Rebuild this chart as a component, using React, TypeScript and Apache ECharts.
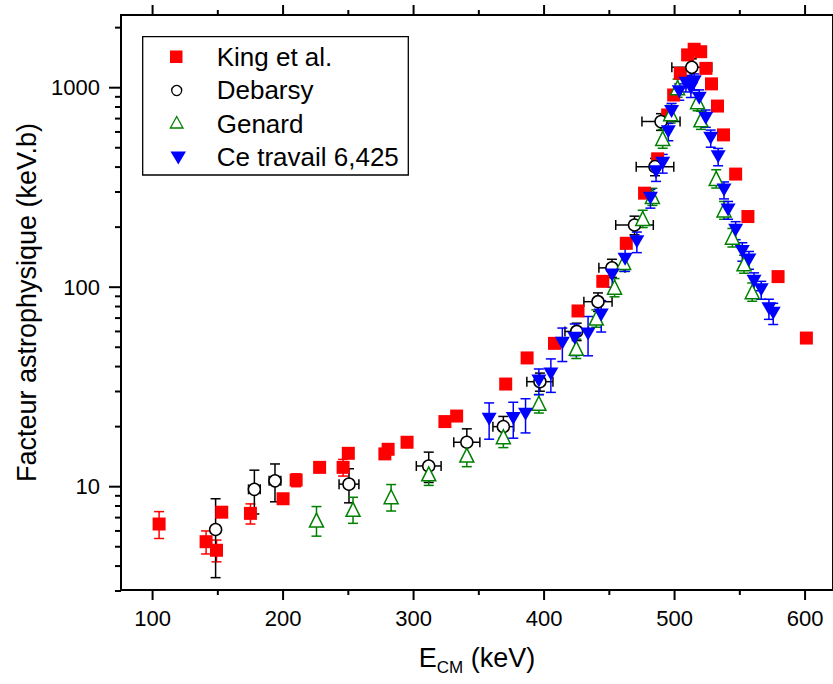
import React, { useEffect, useRef } from "react";
import * as echarts from "echarts";

// ---- Data ----
const kingE = [105, 141, 149, 153, 175, 200, 210, 228, 246, 250, 278, 280.5, 295, 324, 333, 370.6, 387, 408, 426, 445, 463, 477, 487, 494.7, 499.3, 504.4, 510, 515, 520, 524, 528.3, 532.9, 537.5, 546.8, 556.2, 579.3, 601];
const kingS = [6.5, 5.3, 4.8, 7.45, 7.35, 8.7, 10.8, 12.5, 12.5, 14.7, 14.6, 15.4, 16.7, 21.2, 22.6, 32.7, 44.2, 52.3, 76, 107, 166, 296, 440, 730, 919, 1180, 1460, 1558, 1515, 1250, 1045, 809, 580, 369, 226, 113, 55.6];
const kingErr = [1.0, 0.7, 0.6, 0.3, 0.85, 0.5, 0.8, 0.3, 1.2, 0.4, 0.4, 0.4, 0.4, 0.4, 0.4, 0.6, 0.8, 1, 1.5, 2, 3, 5, 8, 12, 15, 20, 25, 25, 25, 20, 18, 14, 10, 6, 4, 2, 1];

const debE = [148.3, 178, 193.8, 250.5, 311.6, 340.8, 368.8, 396.8, 425, 441.3, 452, 469.3, 485, 489.6, 513.2];
const debS = [6.1, 9.7, 10.7, 10.3, 12.7, 16.7, 20.0, 33.6, 60, 84.6, 125, 205, 402, 676, 1265];
const debSErr = [2.6, 2.4, 2.3, 2.0, 2.2, 2.8, 2.5, 3.5, 6, 9, 13, 22, 40, 65, 130];
const debEErr = [0, 4.5, 4.5, 7.6, 9.5, 10, 8, 10, 9, 10.8, 10, 14.4, 14.4, 14.6, 15.3];

const genE = [225.6, 253.6, 282.8, 311.6, 340.8, 368.8, 396, 424.7, 440, 454, 461, 475.6, 483, 490.9, 497, 502.3, 517.6, 520.2, 531.9, 537.9, 544.3, 553.2, 559.5];
const genS = [6.8, 7.7, 8.9, 11.6, 14.4, 17.8, 26.2, 49.4, 70, 100, 133, 221, 285, 557, 740, 1000, 851, 690, 351, 244, 178, 131, 95];
const genErr = [1.15, 1.15, 1.35, 1.45, 1.8, 2.1, 2.8, 5.5, 7, 10.5, 13, 22, 28, 60, 75, 105, 85, 72, 37, 25, 19, 13.5, 10];

const ceE = [357.9, 376.4, 385.8, 396, 405.2, 414, 423.5, 433.7, 443.8, 452.2, 462.1, 471.1, 481.5, 485.8, 490.9, 495.2, 497.7, 503.6, 508.7, 512.5, 515.1, 518.9, 523.9, 527.7, 533.4, 537.9, 541, 546.8, 551.9, 557, 560.9, 566.4, 572.3, 575.6];
const ceS = [21.8, 22, 23.1, 33.9, 36.7, 52.4, 55.4, 58.3, 72.6, 115, 138, 169, 279, 379, 418, 602, 759, 955, 1052, 993, 1072, 885, 703, 558, 451, 307, 244, 193, 151, 137, 107, 97, 78, 74];
const ceErr = [4.5, 4.5, 4.5, 5, 7, 10, 10, 13, 13, 15, 18, 20, 30, 40, 45, 60, 75, 90, 100, 100, 100, 90, 70, 55, 45, 30, 25, 20, 16, 14, 11, 10, 9, 9];

const seriesNames = ["King et al.", "Debarsy", "Genard", "Ce travail 6,425"];

const xMajorTicks = [100, 200, 300, 400, 500, 600];
const xMinorTicks = [150, 250, 350, 450, 550];
const yMajorTicks = [10, 100, 1000];
const yMinorTicks = [3, 4, 5, 6, 7, 8, 9, 20, 30, 40, 50, 60, 70, 80, 90, 200, 300, 400, 500, 600, 700, 800, 900, 2000];

const X_MIN = 75.8;
const X_MAX = 621.4;
const Y_MIN = 3.035;
const Y_MAX = 2314;

const FONT = "'Liberation Sans', Arial, sans-serif";
const RED = "#ff0000";
const GREEN = "#008000";
const BLUE = "#0000ff";
const BLACK = "#000000";

function errRender(color: string) {
  return (params: any, api: any) => {
    const x = api.value(0);
    const y = api.value(1);
    const lo = api.value(2);
    const hi = api.value(3);
    const xe = api.value(4);
    const pLo = api.coord([x, lo]);
    const pHi = api.coord([x, hi]);
    const c = 5;
    const style = { stroke: color, lineWidth: 1.5, fill: "none" };
    const children: any[] = [
      { type: "line", shape: { x1: pLo[0], y1: pLo[1], x2: pHi[0], y2: pHi[1] }, style },
      { type: "line", shape: { x1: pLo[0] - c, y1: pLo[1], x2: pLo[0] + c, y2: pLo[1] }, style },
      { type: "line", shape: { x1: pHi[0] - c, y1: pHi[1], x2: pHi[0] + c, y2: pHi[1] }, style },
    ];
    if (xe > 0) {
      const pL = api.coord([x - xe, y]);
      const pR = api.coord([x + xe, y]);
      children.push(
        { type: "line", shape: { x1: pL[0], y1: pL[1], x2: pR[0], y2: pR[1] }, style },
        { type: "line", shape: { x1: pL[0], y1: pL[1] - c, x2: pL[0], y2: pL[1] + c }, style },
        { type: "line", shape: { x1: pR[0], y1: pR[1] - c, x2: pR[0], y2: pR[1] + c }, style }
      );
    }
    return { type: "group", children };
  };
}

function App() {
  const ref = useRef<HTMLDivElement>(null);

  useEffect(() => {
    if (!ref.current) return;
    const chart = echarts.init(ref.current, null, { renderer: "svg" });

    const kingErrData = kingE.map((e, i) => [e, kingS[i], kingS[i] - kingErr[i], kingS[i] + kingErr[i], 0]);
    const debErrData = debE.map((e, i) => [e, debS[i], debS[i] - debSErr[i], debS[i] + debSErr[i], debEErr[i]]);
    const genErrData = genE.map((e, i) => [e, genS[i], genS[i] - genErr[i], genS[i] + genErr[i], 0]);
    const ceErrData = ceE.map((e, i) => [e, ceS[i], ceS[i] - ceErr[i], ceS[i] + ceErr[i], 0]);

    const xTickData = [
      ...xMajorTicks.map((v) => [v, Y_MIN, 10]),
      ...xMinorTicks.map((v) => [v, Y_MIN, 5]),
    ];
    const yTickData = [
      ...yMajorTicks.map((v) => [X_MIN, v, 12]),
      ...yMinorTicks.map((v) => [X_MIN, v, 6]),
    ];

    const isPow10 = (v: number) => {
      const l = Math.log10(v);
      return Math.abs(l - Math.round(l)) < 1e-6;
    };

    const legendItems = [
      { type: "rect", shape: { x: 170, y: 50.5, width: 12.5, height: 12.5 }, style: { fill: RED } },
      { type: "circle", shape: { cx: 176.7, cy: 90.5, r: 5 }, style: { fill: "#fff", stroke: BLACK, lineWidth: 1.3 } },
      {
        type: "polygon",
        shape: { points: [[176.7, 116.5], [183, 128], [170.4, 128]] },
        style: { fill: "#fff", stroke: GREEN, lineWidth: 1.3 },
      },
      {
        type: "polygon",
        shape: { points: [[170.5, 151.5], [186, 151.5], [178.3, 164.5]] },
        style: { fill: BLUE },
      },
    ];
    const legendTexts = seriesNames.map((n, i) => ({
      type: "text",
      x: 216.7,
      y: [56.5, 90, 123.5, 157][i],
      style: { text: n, font: `26px ${FONT}`, fill: BLACK, verticalAlign: "middle", align: "left" },
    }));

    chart.setOption({
      animation: false,
      backgroundColor: "#ffffff",
      grid: {
        left: 121,
        top: 15,
        right: -3,
        bottom: 94,
        show: true,
        borderColor: BLACK,
        borderWidth: 2,
        backgroundColor: "transparent",
      },
      xAxis: {
        type: "value",
        min: X_MIN,
        max: X_MAX,
        axisLine: { show: false },
        axisTick: { show: false },
        splitLine: { show: false },
        axisLabel: {
          fontSize: 22,
          fontFamily: FONT,
          color: BLACK,
          margin: 17,
          showMinLabel: false,
          showMaxLabel: false,
          formatter: (v: number) => (Math.abs(v % 100) < 1e-6 ? String(v) : ""),
        },
        name: "{e|E}{cm|CM}{k| (keV)}",
        nameLocation: "middle",
        nameGap: 50,
        nameTextStyle: {
          color: BLACK,
          fontFamily: FONT,
          rich: {
            e: { fontSize: 27, lineHeight: 36, fontFamily: FONT, color: BLACK },
            cm: { fontSize: 17, lineHeight: 17, verticalAlign: "bottom", fontFamily: FONT, color: BLACK },
            k: { fontSize: 27, lineHeight: 36, fontFamily: FONT, color: BLACK },
          },
        },
      },
      yAxis: {
        type: "log",
        logBase: 10,
        min: Y_MIN,
        max: Y_MAX,
        axisLine: { show: false },
        axisTick: { show: false },
        splitLine: { show: false },
        axisLabel: {
          fontSize: 22,
          fontFamily: FONT,
          color: BLACK,
          margin: 21,
          formatter: (v: number) => (isPow10(v) ? String(Math.round(v)) : ""),
        },
        name: "Facteur astrophysique (keV.b)",
        nameLocation: "middle",
        nameGap: 78,
        nameTextStyle: { fontSize: 27, fontFamily: FONT, color: BLACK },
      },
      graphic: [
        {
          type: "rect",
          shape: { x: 142.7, y: 36.7, width: 265.6, height: 138.3 },
          style: { fill: "#fff", stroke: BLACK, lineWidth: 1.3 },
          z: 100,
        },
        ...legendItems.map((it) => ({ ...it, z: 101 })),
        ...legendTexts.map((it) => ({ ...it, z: 101 })),
      ],
      series: [
        {
          type: "custom",
          name: "xticks",
          coordinateSystem: "cartesian2d",
          silent: true,
          clip: false,
          data: xTickData,
          renderItem: (params: any, api: any) => {
            const v = api.value(0);
            const len = api.value(2);
            const b = api.coord([v, Y_MIN]);
            const t = api.coord([v, Y_MAX]);
            const style = { stroke: BLACK, lineWidth: 2 };
            return {
              type: "group",
              children: [
                { type: "line", shape: { x1: b[0], y1: b[1], x2: b[0], y2: b[1] + len }, style },
                { type: "line", shape: { x1: t[0], y1: t[1], x2: t[0], y2: t[1] - len }, style },
              ],
            };
          },
        },
        {
          type: "custom",
          name: "yticks",
          coordinateSystem: "cartesian2d",
          silent: true,
          clip: false,
          data: yTickData,
          renderItem: (params: any, api: any) => {
            const v = api.value(1);
            const len = api.value(2);
            const p = api.coord([X_MIN, v]);
            return {
              type: "line",
              shape: { x1: p[0], y1: p[1], x2: p[0] - len, y2: p[1] },
              style: { stroke: BLACK, lineWidth: 2 },
            };
          },
        },
        {
          type: "custom",
          name: "King err",
          coordinateSystem: "cartesian2d",
          silent: true,
          data: kingErrData,
          renderItem: errRender(RED),
        },
        {
          type: "scatter",
          name: seriesNames[0],
          symbol: "rect",
          symbolSize: 13,
          itemStyle: { color: RED, opacity: 1 },
          silent: true,
          data: kingE.map((e, i) => [e, kingS[i]]),
        },
        {
          type: "custom",
          name: "Debarsy err",
          coordinateSystem: "cartesian2d",
          silent: true,
          data: debErrData,
          renderItem: errRender(BLACK),
        },
        {
          type: "scatter",
          name: seriesNames[1],
          symbol: "circle",
          symbolSize: 12,
          itemStyle: { color: "#ffffff", borderColor: BLACK, borderWidth: 1.5, opacity: 1 },
          silent: true,
          data: debE.map((e, i) => [e, debS[i]]),
        },
        {
          type: "custom",
          name: "Genard err",
          coordinateSystem: "cartesian2d",
          silent: true,
          data: genErrData,
          renderItem: errRender(GREEN),
        },
        {
          type: "scatter",
          name: seriesNames[2],
          symbol: "triangle",
          symbolSize: 14,
          itemStyle: { color: "#ffffff", borderColor: GREEN, borderWidth: 1.5, opacity: 1 },
          silent: true,
          data: genE.map((e, i) => [e, genS[i]]),
        },
        {
          type: "custom",
          name: "Ce err",
          coordinateSystem: "cartesian2d",
          silent: true,
          data: ceErrData,
          renderItem: errRender(BLUE),
        },
        {
          type: "scatter",
          name: seriesNames[3],
          symbol: "triangle",
          symbolRotate: 180,
          symbolSize: [15, 13],
          itemStyle: { color: BLUE, opacity: 1 },
          silent: true,
          data: ceE.map((e, i) => [e, ceS[i]]),
        },
      ],
    });

    return () => {
      chart.dispose();
    };
  }, []);

  return (
    <div
      ref={ref}
      style={{ position: "absolute", left: 0, top: 0, width: 833, height: 684, background: "#fff" }}
    />
  );
}

export default App;
